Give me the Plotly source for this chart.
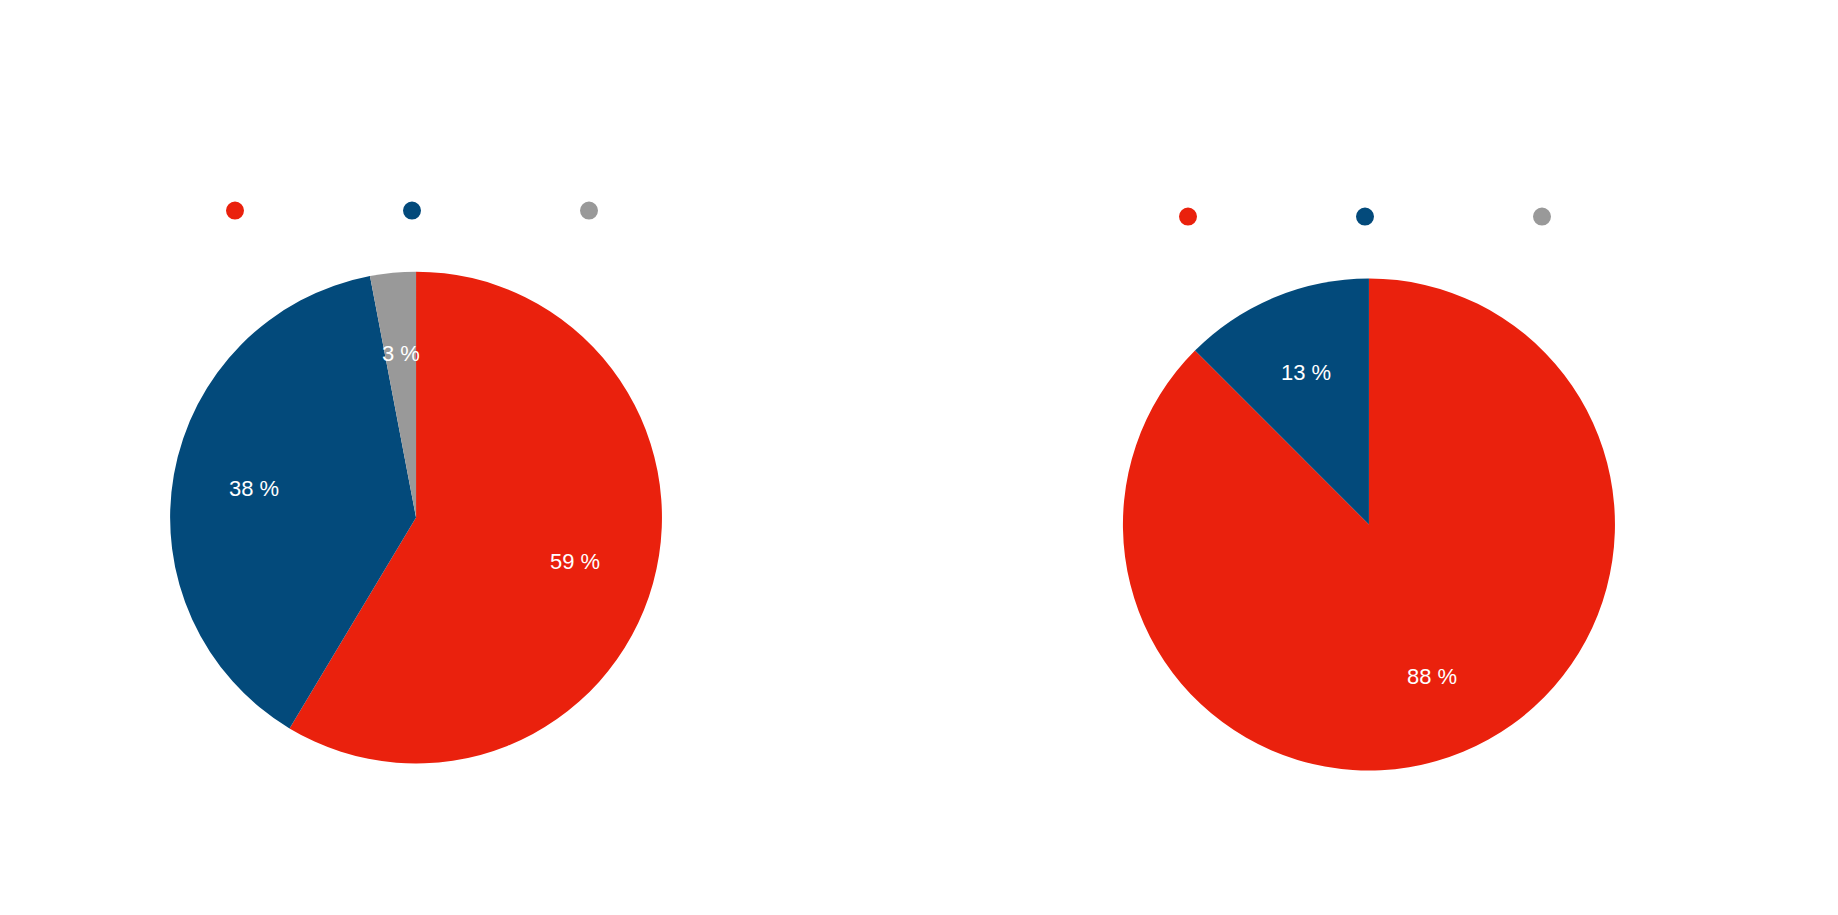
import math
import plotly.graph_objects as go

# slice shares in percent
colors = ["#EA210D", "#034A7B", "#999999"]
left_values = [58.6, 38.4, 3]
right_values = [87.5, 12.5]
legend_names = ["", "", ""]

W, H = 1838, 915
left_dom = dict(x=[0.0882, 0.3558], y=[0.1737, 0.7125])
right_dom = dict(x=[0.6066, 0.8743], y=[0.1661, 0.7049])


def pct_text(vals):
    tot = sum(vals)
    return ["%d %%" % int(v / tot * 100 + 0.5) for v in vals]


def label_annotations(vals, dom):
    # labels sit at ~2/3 of the radius along each slice's mid angle
    cx = (dom["x"][0] + dom["x"][1]) / 2
    cy = (dom["y"][0] + dom["y"][1]) / 2
    r = min((dom["x"][1] - dom["x"][0]) * W, (dom["y"][1] - dom["y"][0]) * H) / 2
    tot = sum(vals)
    anns = []
    start = 0
    for v, t in zip(vals, pct_text(vals)):
        mid = (start + v / 2) / tot * 2 * math.pi
        start += v
        anns.append(dict(
            x=cx + 0.67 * r * math.sin(mid) / W,
            y=cy + 0.67 * r * math.cos(mid) / H,
            xref="paper", yref="paper", xanchor="center", yanchor="middle",
            text=t, showarrow=False,
            font=dict(color="white", size=22),
        ))
    return anns


fig = go.Figure()

for vals, dom in [(left_values, left_dom), (right_values, right_dom)]:
    fig.add_trace(go.Pie(
        values=vals,
        textinfo="none",
        marker=dict(colors=colors[:len(vals)], line=dict(width=0)),
        sort=False, direction="clockwise", rotation=0,
        domain=dom,
        showlegend=False, hoverinfo="skip",
    ))

# dot legends above each pie
for lg in ["legend", "legend2"]:
    for i, nm in enumerate(legend_names):
        fig.add_trace(go.Scatter(
            x=[None], y=[None], mode="markers", name=nm,
            marker=dict(color=colors[i], size=16, symbol="circle",
                        line=dict(color=colors[i], width=2)),
            legend=lg, showlegend=True, hoverinfo="skip",
        ))

leg_style = dict(
    orientation="h", entrywidth=132, entrywidthmode="pixels",
    bgcolor="rgba(0,0,0,0)", font=dict(size=14),
    xanchor="left", yanchor="middle",
)

fig.update_layout(
    width=W, height=H,
    margin=dict(l=0, r=0, t=0, b=0),
    paper_bgcolor="white", plot_bgcolor="white",
    font=dict(family="Helvetica, Arial, Liberation Sans, sans-serif"),
    xaxis=dict(visible=False), yaxis=dict(visible=False),
    legend=dict(x=207 / W, y=1 - 203 / H, **leg_style),
    legend2=dict(x=1160 / W, y=1 - 209 / H, **leg_style),
    annotations=label_annotations(left_values, left_dom)
    + label_annotations(right_values, right_dom),
)

fig.write_html("out.html")
